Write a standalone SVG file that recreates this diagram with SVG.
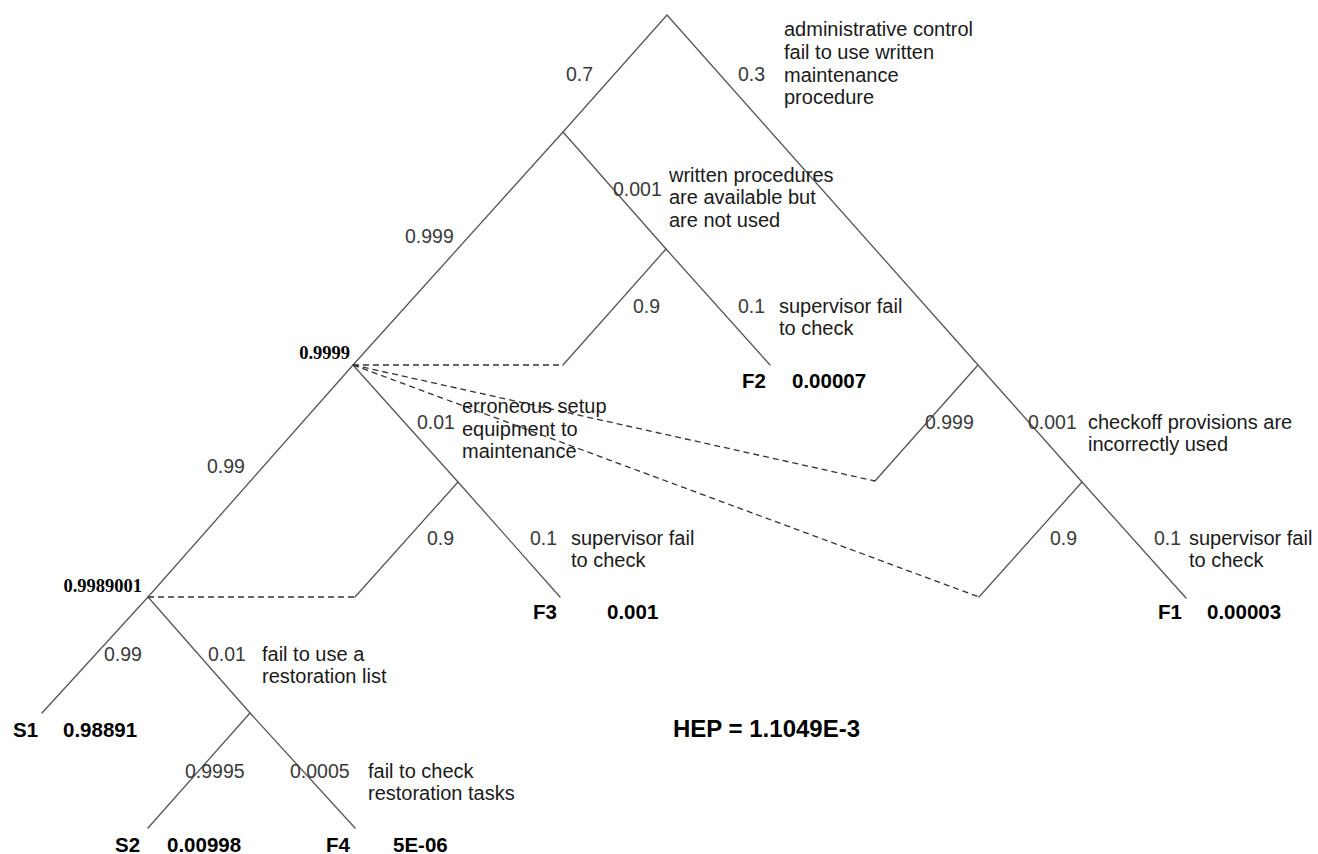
<svg xmlns="http://www.w3.org/2000/svg" width="1318" height="854" viewBox="0 0 1318 854">
<style>
  .ln { stroke: #555; stroke-width: 1.3; fill: none; stroke-linecap: round; }
  .ds { stroke: #333; stroke-width: 1.3; fill: none; stroke-dasharray: 6 4; }
  .n { font-family: "Liberation Sans", Arial, sans-serif; font-size: 19.5px; fill: #3a3a3a; }
  .d { font-family: "Liberation Sans", Arial, sans-serif; font-size: 20px; fill: #1a1a1a; }
  .b { font-family: "Liberation Sans", Arial, sans-serif; font-size: 20.5px; font-weight: bold; fill: #000; }
  .s { font-family: "Liberation Serif", "Times New Roman", serif; font-size: 18.5px; font-weight: bold; fill: #000; text-anchor: end; }
  .h { font-family: "Liberation Sans", Arial, sans-serif; font-size: 24px; font-weight: bold; fill: #000; }
</style>
<rect width="1318" height="854" fill="#fff"/>
<g id="connectors">
  <polyline class="ln" points="353,365 563,132 667,15 978,365 1082,482 1186,598"/>
  <polyline class="ln" points="563,132 666,249 770,365"/>
  <polyline class="ln" points="666,249 563,365"/>
  <polyline class="ln" points="978,365 875,481"/>
  <polyline class="ln" points="1082,482 979,597"/>
  <polyline class="ln" points="148,597 353,365 458,482 560,597"/>
  <polyline class="ln" points="458,482 355,597"/>
  <polyline class="ln" points="42,713 148,597 250,713 355,828"/>
  <polyline class="ln" points="250,713 148,828"/>
  <line class="ds" x1="353" y1="365" x2="563" y2="365"/>
  <line class="ds" x1="353" y1="365" x2="875" y2="481"/>
  <line class="ds" x1="353" y1="365" x2="979" y2="597"/>
  <line class="ds" x1="148" y1="597" x2="355" y2="597"/>
</g>
<g id="node-admin">
  <text class="n" x="566" y="81">0.7</text>
  <text class="n" x="738" y="81">0.3</text>
  <text class="d" x="784" y="36">administrative control<tspan x="784" y="59">fail to use written</tspan><tspan x="784" y="82">maintenance</tspan><tspan x="784" y="104">procedure</tspan></text>
</g>
<g id="node-written">
  <text class="n" x="405" y="243">0.999</text>
  <text class="n" x="613" y="196">0.001</text>
  <text class="d" x="669" y="182">written procedures<tspan x="669" y="204">are available but</tspan><tspan x="669" y="227">are not used</tspan></text>
</g>
<g id="node-sup1">
  <text class="n" x="633" y="313">0.9</text>
  <text class="n" x="738" y="313">0.1</text>
  <text class="d" x="779" y="313">supervisor fail<tspan x="779" y="335">to check</tspan></text>
</g>
<g id="end-F2">
  <text class="b" x="742" y="388">F2</text>
  <text class="b" x="792" y="388">0.00007</text>
</g>
<g id="node-setup">
  <text class="s" x="350" y="359">0.9999</text>
  <text class="n" x="417" y="429">0.01</text>
  <text class="d" x="462" y="413">erroneous setup<tspan x="462" y="436">equipment to</tspan><tspan x="462" y="458">maintenance</tspan></text>
  <text class="n" x="207" y="473">0.99</text>
</g>
<g id="node-sup2">
  <text class="n" x="427" y="545">0.9</text>
  <text class="n" x="530" y="545">0.1</text>
  <text class="d" x="571" y="545">supervisor fail<tspan x="571" y="567">to check</tspan></text>
</g>
<g id="end-F3">
  <text class="b" x="533" y="619">F3</text>
  <text class="b" x="607" y="619">0.001</text>
</g>
<g id="node-checkoff">
  <text class="n" x="925" y="429">0.999</text>
  <text class="n" x="1028" y="429">0.001</text>
  <text class="d" x="1088" y="429">checkoff provisions are<tspan x="1088" y="451">incorrectly used</tspan></text>
</g>
<g id="node-sup3">
  <text class="n" x="1050" y="545">0.9</text>
  <text class="n" x="1154" y="545">0.1</text>
  <text class="d" x="1189" y="545">supervisor fail<tspan x="1189" y="567">to check</tspan></text>
</g>
<g id="end-F1">
  <text class="b" x="1158" y="619">F1</text>
  <text class="b" x="1207" y="619">0.00003</text>
</g>
<g id="node-restoration">
  <text class="s" x="142" y="592">0.9989001</text>
  <text class="n" x="104" y="661">0.99</text>
  <text class="n" x="208" y="661">0.01</text>
  <text class="d" x="262" y="661">fail to use a<tspan x="262" y="683">restoration list</tspan></text>
</g>
<g id="end-S1">
  <text class="b" x="13" y="737">S1</text>
  <text class="b" x="63" y="737">0.98891</text>
</g>
<g id="node-check-restoration">
  <text class="n" x="185" y="778">0.9995</text>
  <text class="n" x="290" y="778">0.0005</text>
  <text class="d" x="368" y="778">fail to check<tspan x="368" y="800">restoration tasks</tspan></text>
</g>
<g id="end-S2">
  <text class="b" x="115" y="852">S2</text>
  <text class="b" x="167" y="852">0.00998</text>
</g>
<g id="end-F4">
  <text class="b" x="326" y="852">F4</text>
  <text class="b" x="393" y="852">5E-06</text>
</g>
<g id="hep">
  <text class="h" x="673" y="737">HEP = 1.1049E-3</text>
</g>
</svg>
